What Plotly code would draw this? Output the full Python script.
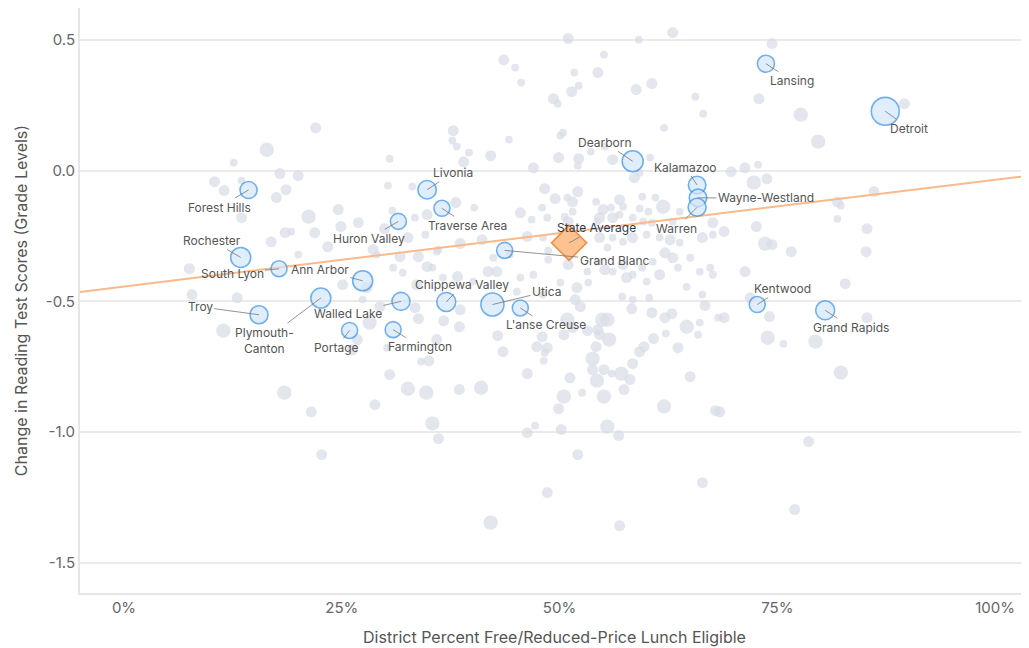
import math
import plotly.graph_objects as go

# ---------------- data ----------------
S, M, L = 2.5, 5.0, 8.5   # enrollment (thousands) classes for the background districts

GRAY_PCT = [
    22.0, 16.4, 12.6, 30.5, 17.9, 20.0, 10.4, 11.5, 13.5, 18.6, 17.5, 30.3, 13.5, 21.2, 24.6,
    26.9, 24.9, 30.8, 18.5, 19.2, 21.9, 16.9, 23.4, 20.0, 28.6, 7.5, 29.9, 29.0, 30.9, 7.8,
    13.0, 25.1, 27.9, 31.7, 32.0, 33.8, 36.1, 34.8, 33.6, 29.4, 27.4,
    51.0, 59.1, 63.0, 43.6, 44.9, 55.1, 51.7, 54.4, 45.6, 52.2, 51.4, 49.3, 49.8, 58.8, 60.6,
    65.6, 66.5, 62.0, 37.8, 37.7, 38.2, 44.2, 39.6, 42.1, 50.4, 50.1, 49.9, 52.2, 52.1, 53.6,
    56.1, 55.2, 39.0, 47.0, 58.6, 59.2, 60.4, 33.1, 48.3, 49.5, 50.9, 52.1, 51.5, 54.2, 55.0,
    55.9, 56.9, 57.3, 59.5, 61.0, 61.9, 59.2, 60.2, 34.8, 33.4, 38.1, 40.2, 51.5, 54.6, 56.1,
    56.9, 45.5, 48.0, 48.6, 46.8, 50.6, 51.0, 54.3, 58.4, 59.6, 60.6, 67.6, 63.0, 63.8, 46.3,
    41.1, 38.6, 35.9, 34.6, 32.6, 48.1, 48.7, 54.6, 55.5, 56.1, 57.3, 58.4, 60.0, 61.5, 62.7,
    63.8, 66.4, 67.6, 51.0, 53.2, 54.4, 55.2, 56.1, 57.3, 58.4, 59.5, 60.7, 62.1, 63.0, 63.6,
    65.0, 66.1, 67.3, 48.7, 42.8, 44.3, 42.4, 35.4, 36.6, 38.3, 40.1, 41.8, 45.5, 47.0, 50.1,
    52.0, 53.3, 57.7, 60.0, 61.5, 64.6, 67.6, 66.4, 45.1, 48.1,
    74.4, 72.9, 77.7, 79.7, 89.6, 69.7, 71.3, 72.8, 72.3, 73.8, 86.1, 81.9, 82.3, 81.9, 72.6,
    68.9, 85.3, 73.6, 74.4, 76.6, 85.2, 71.3, 82.8, 71.9,
    68.9, 74.1, 73.9, 75.7, 79.4, 85.3, 82.3, 68.4, 78.6, 77.0,
    11.4, 18.4, 21.5, 22.7, 28.8, 30.5, 28.2, 26.8, 26.2, 30.2,
    33.4, 33.8, 36.7, 38.6, 38.5, 35.9, 42.9, 43.5, 34.1, 35.0, 32.6, 34.7, 38.5, 41.0, 35.4,
    36.1, 46.3, 46.3, 47.2, 50.2, 52.1, 48.6, 42.1, 56.9, 66.4, 55.5, 56.8, 49.9, 50.5, 52.6,
    55.1, 57.4, 51.2, 54.3, 53.8, 55.1, 56.0, 57.1, 58.1, 58.4, 59.2, 59.7, 53.8, 54.2, 55.7,
    54.6, 54.9, 55.5, 54.4, 53.2, 50.5, 50.9, 51.5, 48.0, 47.4, 48.6, 48.3, 48.2, 60.8, 62.2,
    63.6, 64.6, 65.9, 66.1, 62.9, 62.1, 60.6, 65.0, 62.0, 67.9, 58.3, 57.2, 58.4, 51.8, 52.4,
    66.7, 68.2, 60.3,
]

GRAY_CHANGE = [
    0.164, 0.080, 0.031, 0.046, -0.011, -0.019, -0.042, -0.076, -0.038, -0.073, -0.103, -0.057, -0.180, -0.176, -0.149,
    -0.199, -0.214, -0.153, -0.237, -0.233, -0.237, -0.272, -0.291, -0.321, -0.302, -0.375, -0.222, -0.321, -0.371, -0.474,
    -0.486, -0.436, -0.447, -0.329, -0.390, -0.329, -0.302, -0.367, -0.436, -0.520, -0.493,
    0.505, 0.501, 0.528, 0.424, 0.394, 0.444, 0.375, 0.375, 0.337, 0.325, 0.302, 0.275, 0.256, 0.310, 0.333,
    0.283, 0.218, 0.164, 0.153, 0.115, 0.092, 0.119, 0.069, 0.057, 0.145, 0.134, 0.050, 0.046, 0.019, 0.073,
    0.042, 0.092, 0.034, 0.011, -0.027, -0.008, 0.050, -0.061, -0.069, -0.107, -0.103, -0.080, -0.119, -0.119, -0.149,
    -0.141, -0.111, -0.138, -0.099, -0.103, -0.138, -0.145, -0.157, -0.168, -0.180, -0.122, -0.141, -0.157, -0.180, -0.180,
    -0.168, -0.161, -0.141, -0.180, -0.187, -0.176, -0.195, -0.195, -0.180, -0.195, -0.199, -0.199, -0.195, -0.157, -0.252,
    -0.264, -0.279, -0.310, -0.245, -0.256, -0.256, -0.306, -0.256, -0.294, -0.256, -0.272, -0.256, -0.245, -0.256, -0.264,
    -0.275, -0.256, -0.245, -0.359, -0.386, -0.348, -0.379, -0.386, -0.359, -0.398, -0.371, -0.348, -0.314, -0.333, -0.371,
    -0.333, -0.386, -0.371, -0.340, -0.386, -0.321, -0.333, -0.371, -0.409, -0.405, -0.424, -0.386, -0.409, -0.398, -0.428,
    -0.447, -0.428, -0.409, -0.424, -0.398, -0.444, -0.398, -0.474, -0.463, -0.474,
    0.486, 0.275, 0.214, 0.111, 0.256, -0.004, 0.011, 0.023, -0.046, -0.031, -0.080, -0.119, -0.134, -0.184, -0.214,
    -0.233, -0.222, -0.279, -0.283, -0.310, -0.310, -0.386, -0.432, -0.486,
    -0.562, -0.558, -0.639, -0.662, -0.654, -0.562, -0.772, -0.922, -1.036, -1.296,
    -0.612, -0.849, -0.922, -1.086, -0.895, -0.780, -0.581, -0.646, -0.685, -0.677,
    -0.524, -0.566, -0.574, -0.532, -0.597, -0.646, -0.631, -0.692, -0.730, -0.727, -0.834, -0.849, -0.837, -0.830, -0.967,
    -1.025, -0.776, -1.002, -0.975, -0.990, -1.086, -1.231, -1.346, -1.358, -1.193, -0.979, -1.013, -0.910, -0.864, -0.849,
    -0.864, -0.837, -0.792, -0.803, -0.761, -0.761, -0.776, -0.776, -0.799, -0.738, -0.692, -0.673, -0.719, -0.673, -0.646,
    -0.627, -0.570, -0.570, -0.608, -0.612, -0.627, -0.570, -0.600, -0.635, -0.673, -0.677, -0.696, -0.727, -0.642, -0.623,
    -0.677, -0.597, -0.627, -0.581, -0.547, -0.562, -0.543, -0.788, -0.902, -0.918, -0.528, -0.482, -0.493, -0.493, -0.520,
    -0.516, -0.562, -0.486,
]

GRAY_ENROLL = [
    M, L, S, S, M, M, M, M, S, M, M, S, M, L, M,
    M, M, S, M, S, M, M, M, S, M, M, M, S, S, M,
    M, M, M, M, S, M, S, M, M, M, S,
    M, S, M, M, S, S, S, M, S, S, M, M, S, M, M,
    S, S, S, M, S, S, S, S, M, S, S, M, M, S, S,
    M, S, M, M, M, S, S, S, M, M, S, M, M, S, M,
    S, M, S, S, S, L, S, S, M, S, M, S, S, M, M,
    S, M, S, S, S, S, M, S, S, S, S, M, S, S, M,
    M, M, S, S, M, S, S, M, S, S, S, M, S, S, M,
    S, M, S, M, S, S, M, S, M, S, S, S, M, M, S,
    S, S, S, S, M, S, S, S, S, M, S, M, S, S, S,
    M, S, M, S, M, S, S, S, S, S,
    M, M, L, L, M, M, M, S, L, M, M, M, S, S, M,
    M, M, L, M, M, M, M, M, M,
    M, M, L, S, L, M, L, M, M, M,
    L, L, M, M, M, M, L, M, M, S,
    M, M, M, M, M, M, M, M, S, M, L, L, M, L, L,
    M, M, M, S, M, M, M, L, M, M, L, M, M, L, S,
    L, M, M, L, M, M, S, L, M, M, M, M, L, M, L,
    M, L, L, M, M, M, L, M, M, M, M, S, S, M, S,
    M, L, S, S, M, M, M, M, L, M, M, S, S, M, M,
    M, S, S,
]

DISTRICTS = [
    "Lansing", "Detroit", "Dearborn", "Kalamazoo", "Wayne-Westland", "Warren",
    "Forest Hills", "Livonia", "Traverse Area", "Huron Valley", "Rochester", "South Lyon",
    "Ann Arbor", "Grand Blanc", "Troy", "Plymouth-Canton", "Walled Lake", "Portage",
    "Farmington", "Chippewa Valley", "Utica", "L'anse Creuse", "Kentwood", "Grand Rapids",
]
DIST_PCT = [
    73.7, 87.4, 58.4, 65.8, 65.9, 65.8,
    14.3, 34.8, 36.5, 31.5, 13.4, 17.8,
    27.4, 43.7, 15.5, 22.6, 31.8, 25.9,
    30.9, 37.0, 42.3, 45.5, 72.7, 80.5,
]
DIST_CHANGE = [
    0.409, 0.227, 0.036, -0.055, -0.104, -0.140,
    -0.074, -0.073, -0.144, -0.194, -0.332, -0.375,
    -0.421, -0.305, -0.551, -0.487, -0.500, -0.611,
    -0.608, -0.502, -0.512, -0.525, -0.512, -0.534,
]
DIST_ENROLL = [
    14.5, 39.0, 22.0, 15.3, 15.3, 16.2,
    14.5, 17.0, 12.8, 12.8, 20.0, 12.8,
    20.0, 12.8, 16.2, 20.0, 16.2, 12.8,
    12.8, 18.0, 26.5, 12.8, 12.8, 18.0,
]

STATE_AVG_PCT = 51.1
STATE_AVG_CHANGE = -0.276

TREND_INTERCEPT = -0.443     # grade levels at 0 %
TREND_SLOPE = 0.00408        # grade levels per percentage point

X_TICKS = [0, 25, 50, 75, 100]
X_TICK_LABELS = ["0%", "25%", "50%", "75%", "100%"]
Y_TICKS = [0.5, 0.0, -0.5, -1.0, -1.5]
Y_TICK_LABELS = ["0.5", "0.0", "-0.5", "-1.0", "-1.5"]

# ---------------- layout helpers (positions / styles) ----------------
LABEL_OFFSETS = {
    "Lansing": (26, 17), "Detroit": (24, 17), "Dearborn": (-28, -19),
    "Kalamazoo": (-12, -18), "Wayne-Westland": (68, 0), "Warren": (-21, 21),
    "Forest Hills": (-29, 17), "Livonia": (26, -17), "Traverse Area": (26, 17),
    "Huron Valley": (-29, 17), "Rochester": (-29, -17), "South Lyon": (-47, 5),
    "Ann Arbor": (-43, -11), "Grand Blanc": (110, 10), "Troy": (-59, -8),
    "Plymouth-Canton": (-56, 42), "Walled Lake": (-53, 12), "Portage": (-13, 17),
    "Farmington": (27, 17), "Chippewa Valley": (16, -17), "Utica": (54, -13),
    "L'anse Creuse": (26, 17), "Kentwood": (25, -16), "Grand Rapids": (26, 17),
}
LABEL_TEXT = {"Plymouth-Canton": "Plymouth-<br>Canton"}


def diam(v):
    return 11 * math.sqrt(v / 5.0)


def blue_diam(v):
    return 10 * math.sqrt(v / 5.0)


FONT = "Inter, Roboto, sans-serif"
X_RANGE = [-5.05, 103.9]
Y_RANGE = [-1.615, 0.622]

fig = go.Figure()

fig.add_trace(go.Scatter(
    x=GRAY_PCT, y=GRAY_CHANGE, mode="markers",
    marker=dict(size=[diam(v) for v in GRAY_ENROLL], color="#d7dce4",
                line=dict(width=0)),
    hoverinfo="skip", showlegend=False,
))

tx = [X_RANGE[0] - 2, X_RANGE[1] + 2]
fig.add_trace(go.Scatter(
    x=tx, y=[TREND_INTERCEPT + TREND_SLOPE * v for v in tx], mode="lines",
    line=dict(color="#f9b98a", width=2), hoverinfo="skip", showlegend=False,
))

fig.add_trace(go.Scatter(
    x=DIST_PCT, y=DIST_CHANGE, mode="markers",
    marker=dict(size=[blue_diam(v) for v in DIST_ENROLL], color="#d4e6f8",
                line=dict(width=1.6, color="#3490e8")),
    text=DISTRICTS, hoverinfo="text", showlegend=False,
))

fig.add_trace(go.Scatter(
    x=[STATE_AVG_PCT], y=[STATE_AVG_CHANGE], mode="markers",
    marker=dict(symbol="diamond", size=27, color="#fdc28f",
                line=dict(width=1.5, color="#f08a3c")),
    hoverinfo="skip", showlegend=False,
))

annotations = []
for name, xv, yv in zip(DISTRICTS, DIST_PCT, DIST_CHANGE):
    ax, ay = LABEL_OFFSETS[name]
    annotations.append(dict(
        x=xv, y=yv, xref="x", yref="y", ax=ax, ay=ay, axref="pixel", ayref="pixel",
        text=LABEL_TEXT.get(name, name), showarrow=True, arrowhead=0,
        arrowwidth=0.8, arrowcolor="#777777", standoff=0,
        font=dict(family=FONT, size=12, color="#555555"),
    ))
annotations.append(dict(
    x=STATE_AVG_PCT, y=STATE_AVG_CHANGE, xref="x", yref="y", ax=27, ay=-15,
    text="State Average", showarrow=True, arrowhead=0, arrowwidth=0.8,
    arrowcolor="#777777", standoff=0,
    font=dict(family=FONT, size=12, color="#2e3a4e"),
))

# page body has an 8px default margin, so the figure is 8px smaller
fig.update_layout(
    width=1021, height=640,
    margin=dict(l=72, r=0, t=0, b=55),
    paper_bgcolor="white", plot_bgcolor="white",
    font=dict(family=FONT, color="#555555"),
    annotations=annotations,
    shapes=[dict(type="line", xref="paper", x0=0, x1=1, yref="y", y0=0, y1=0,
                 line=dict(color="#aaaaaa", width=1.5, dash="8px,6px"), layer="below")],
    xaxis=dict(
        range=X_RANGE, tickvals=X_TICKS, ticktext=X_TICK_LABELS, showgrid=False,
        zeroline=False, showline=True, linecolor="#e6e6e6", linewidth=2,
        ticks="", tickfont=dict(size=15, color="#666666"),
        title=dict(text="District Percent Free/Reduced-Price Lunch Eligible",
                   font=dict(size=16, color="#555555"), standoff=16),
    ),
    yaxis=dict(
        range=Y_RANGE, tickvals=Y_TICKS, ticktext=Y_TICK_LABELS, showgrid=True,
        gridcolor="#ebebeb", gridwidth=1.5, zeroline=False, showline=True,
        linecolor="#e6e6e6", linewidth=2, ticks="",
        tickfont=dict(size=15, color="#666666"),
        title=dict(text="Change in Reading Test Scores (Grade Levels)",
                   font=dict(size=16, color="#555555"), standoff=14),
    ),
)

fig.write_html("out.html")
